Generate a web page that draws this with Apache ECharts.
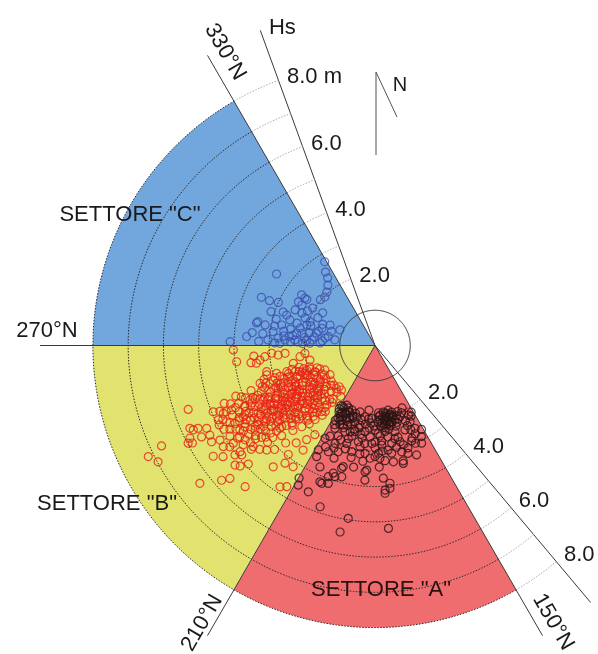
<!DOCTYPE html>
<html>
<head>
<meta charset="utf-8">
<script src="https://cdn.jsdelivr.net/npm/echarts@6/dist/echarts.min.js"></script>
<style>
  html, body { margin: 0; padding: 0; background: #fff; }
  #chart { width: 598px; height: 654px; }
</style>
</head>
<body>
<div id="chart"></div>
<script>
// directions are in degrees from north, clockwise; heights Hs in metres
const sectorNames = ['SETTORE "A"', 'SETTORE "B"', 'SETTORE "C"'];
const sectorFrom = [150, 210, 270];
const sectorTo = [210, 270, 330];
const sectorEdges = [150, 210, 270, 330];
const edgeLabels = ['150°N', '210°N', '270°N', '330°N'];
const ringLevels = [2, 3, 4, 5, 6, 7, 8];
const hsTicks = [2, 4, 6, 8];
const hsAxisDirs = [340, 140];
const sectorMaxHs = 8;
const hsMax = 9.5;
const calmHs = 1;

// settore "C" (blue)
const pointsC = [
  [3.45, 306], [3.5, 293], [3.25, 293], [3.0, 294], [2.33, 304], [2.37, 299], [2.51, 326], [2.34, 325],
  [2.17, 322], [2.04, 318], [1.98, 314], [2.02, 310], [2.77, 329], [2.77, 290], [2.48, 294], [2.27, 294],
  [3.39, 281.5], [3.17, 280.6], [2.92, 277.7], [2.71, 282.4], [2.52, 286.7], [3.65, 274], [2.02, 286.7],
  [4.11, 271.5], [3.42, 280.8], [2.56, 273.5], [2.28, 274], [2.01, 276.5], [1.74, 278], [1.43, 278.5],
  [1.15, 278], [2.18, 283], [1.96, 290], [1.8, 296], [2.44, 281], [2.76, 274.4], [3.04, 273], [1.79, 275],
  [1.58, 288], [1.4, 294.5], [1.09, 294], [2.19, 272.6], [1.56, 272.6], [2.13, 291.5], [2.06, 301],
  [2.53, 304.6], [2.4, 304], [2.5, 299.7], [2.35, 277], [2.62, 279], [1.9, 281], [2.1, 279.5], [1.65, 284],
  [2.45, 276], [2.85, 271.5], [3.3, 272], [1.3, 288], [1.85, 272],
  [1.5, 275], [1.7, 282], [1.95, 274], [2.25, 279], [2.6, 276], [2.9, 281], [3.2, 276], [1.35, 281],
  [2.05, 271.5], [2.4, 272.5], [2.7, 271.3], [3.5, 276], [1.6, 292], [1.9, 287], [2.3, 286], [2.65, 289],
  [2.15, 297], [1.75, 302], [2.9, 285], [3.1, 288]
];

// settore "B" (red)
const pointsB = [
  [3.95, 263.3], [3.55, 262.1], [3.29, 262.8], [3.16, 256.4], [5.6, 251.1], [4.96, 247.7], [4.71, 245.9],
  [4.46, 245.8], [5.75, 245.9], [5.54, 244.9], [5.32, 243.8], [5.87, 243.4], [5.98, 242.4], [5.87, 241.9],
  [5.56, 242.2], [5.33, 241.5], [5.38, 239.5], [5.15, 238.6], [5.17, 236.3], [5.02, 235.1], [6.69, 244.8],
  [7.16, 243.9], [6.98, 241.8], [5.56, 235.6], [5.34, 233.8], [5.04, 232], [4.89, 230.6], [5.22, 229.5],
  [5.13, 228.2], [4.92, 226.9], [4.92, 244.6], [4.73, 242.8], [4.54, 240.9], [4.25, 241.6], [3.87, 246.4],
  [4.08, 244.8], [6.32, 231.8], [5.79, 228.7], [5.58, 227.5], [5.44, 222.6], [4.49, 220], [4.83, 213.9],
  [4.72, 212], [5.68, 245.1], [4.88, 235.4], [4.87, 231.8], [4.49, 230.3], [4.27, 226], [4.2, 217.4],
  [4.15, 214], [3.4, 261.5], [3.14, 264.2], [2.76, 264.4], [2.56, 265], [2.37, 257.7], [2.15, 261.5],
  [2.0, 263.6], [1.89, 257.4], [3.43, 251.8], [3.18, 254.8], [2.9, 254.2], [2.61, 253.5], [2.39, 248.3],
  [2.14, 248.3], [1.86, 246.4], [3.45, 265], [2.94, 265.7], [4.02, 268.2], [3.9, 228], [4.1, 224],
  [3.75, 222.5], [3.55, 219], [3.3, 216], [3.05, 214], [3.6, 214.5], [3.95, 218.5],
  [1.62, 226], [1.71, 219], [1.78, 233], [1.66, 240], [1.85, 246], [1.74, 214], [1.9, 229], [1.83, 238],
  [2.02, 217], [2.11, 222], [2.05, 228], [2.18, 233], [2.08, 237], [2.22, 242], [2.14, 247], [2.27, 251],
  [2.3, 225], [2.25, 231], [2.2, 238], [2.04, 244],
  [2.41, 219], [2.48, 224], [2.55, 229], [2.44, 234], [2.62, 238], [2.51, 243], [2.68, 247], [2.58, 252],
  [2.66, 221], [2.7, 232], [2.47, 240], [2.6, 226], [2.39, 248], [2.65, 242],
  [2.82, 223], [2.91, 228], [2.85, 233], [3.02, 236], [2.95, 240], [3.08, 244], [2.88, 248], [3.05, 251],
  [2.99, 226], [3.1, 231], [2.8, 238], [2.94, 243], [3.06, 239], [2.86, 246],
  [3.22, 227], [3.31, 232], [3.25, 237], [3.42, 240], [3.36, 244], [3.48, 248], [3.28, 251], [3.45, 234],
  [3.5, 229], [3.2, 242], [3.38, 238],
  [3.62, 231], [3.71, 236], [3.65, 240], [3.82, 243], [3.76, 247], [3.88, 238], [3.7, 229], [3.9, 234],
  [3.6, 245], [4.02, 234], [4.12, 239], [4.25, 236], [4.18, 242], [4.35, 238], [4.08, 245], [4.3, 232],
  [1.55, 221], [1.6, 231], [1.68, 236], [1.58, 244], [1.76, 249], [1.8, 224], [1.93, 218], [1.95, 234],
  [1.88, 241], [1.69, 228], [1.52, 237], [1.96, 250],
  [2.0, 220], [2.03, 233], [2.09, 240], [2.12, 225], [2.16, 229], [2.19, 245], [2.23, 236], [2.26, 219],
  [2.29, 248], [2.32, 228], [2.35, 241], [2.38, 233], [2.13, 252], [2.06, 250], [2.36, 222], [2.24, 254],
  [2.42, 230], [2.45, 237], [2.49, 245], [2.52, 221], [2.53, 235], [2.57, 250], [2.6, 233], [2.63, 244],
  [2.67, 228], [2.71, 240], [2.74, 250], [2.76, 224], [2.78, 235], [2.56, 240], [2.43, 227], [2.69, 236],
  [2.81, 231], [2.84, 241], [2.87, 226], [2.9, 236], [2.93, 246], [2.96, 230], [2.98, 252], [3.01, 241],
  [3.04, 233], [3.07, 227], [3.12, 247], [3.15, 237], [3.18, 242], [3.16, 229], [2.83, 252], [3.0, 246],
  [3.21, 234], [3.24, 246], [3.27, 231], [3.3, 240], [3.33, 236], [3.35, 249], [3.39, 228], [3.41, 243],
  [3.44, 232], [3.47, 238], [3.52, 244], [3.55, 235], [3.58, 240], [3.29, 253],
  [3.63, 236], [3.67, 243], [3.73, 232], [3.79, 239], [3.85, 245], [3.93, 241], [3.97, 237], [4.05, 242],
  [4.15, 235], [3.74, 250], [3.68, 226],
  [1.58, 217], [1.64, 222], [1.72, 242], [1.8, 230], [1.87, 236], [1.92, 244], [1.99, 226], [2.01, 238],
  [2.07, 231], [2.1, 246], [2.17, 219], [2.2, 228], [2.21, 250], [2.28, 234], [2.31, 243], [2.34, 217],
  [2.37, 252], [2.4, 225], [2.46, 231], [2.5, 239], [2.54, 247], [2.59, 223], [2.61, 231], [2.64, 250],
  [2.66, 237], [2.72, 227], [2.73, 244], [2.77, 232], [2.8, 248], [2.85, 222], [2.89, 239], [2.92, 233],
  [2.97, 249], [2.99, 236], [3.03, 228], [3.06, 247], [3.09, 235], [3.13, 241], [3.17, 250], [3.19, 232],
  [3.23, 239], [3.26, 226], [3.32, 244], [3.37, 234], [3.4, 250], [3.43, 237], [3.46, 245], [3.51, 232],
  [3.54, 241], [3.57, 229], [3.61, 247], [3.66, 234], [3.69, 241], [3.72, 246], [3.78, 235], [3.83, 240],
  [3.86, 230], [3.92, 244], [3.99, 239], [4.04, 230], [4.1, 236], [4.22, 240], [4.28, 244], [4.38, 235],
  [2.48, 217], [2.7, 219], [2.9, 220], [3.1, 222], [3.35, 224], [1.7, 247], [1.95, 252], [2.45, 254],
  [2.15, 236], [2.55, 243], [2.75, 240], [3.0, 238], [3.2, 236], [3.4, 241], [3.6, 238], [3.8, 236],
  [4.4, 241], [4.45, 237], [4.5, 244], [4.55, 234], [4.6, 239], [4.62, 246], [4.66, 242], [4.7, 236],
  [4.75, 240], [4.8, 244], [4.42, 248], [4.48, 232], [4.58, 230], [4.33, 246], [4.36, 242], [4.2, 247],
  [4.24, 233], [4.14, 231], [4.06, 249], [3.96, 248], [4.52, 238], [4.85, 238], [4.68, 233], [4.9, 241],
  [4.3, 239], [4.12, 243], [4.0, 236], [3.94, 232], [4.78, 247], [4.58, 249], [4.96, 243], [4.4, 228],
  [4.63, 236], [4.2, 250], [4.1, 228]
];

// settore "A" (black)
const pointsA = [
  [2.06, 209.5], [2.07, 204.3], [2.18, 199], [2.31, 203.9], [2.18, 207], [2.09, 194.4], [2.04, 188],
  [2.07, 182.6], [1.98, 175.9], [2.08, 171.4], [2.22, 167.5], [2.27, 173.5], [1.99, 167.6], [2.19, 165],
  [2.17, 177.8], [2.14, 160.7], [2.19, 154.4], [2.38, 155.3], [2.61, 205.8], [2.59, 199.2], [2.51, 193.1],
  [2.46, 186.6], [2.4, 180], [2.46, 173.4], [2.51, 166.9], [2.54, 160.5], [2.61, 154.2], [3.07, 154.5],
  [2.99, 208.3], [3.0, 202.2], [2.89, 196.1], [2.77, 189.8], [2.78, 181.9], [2.83, 176.1], [2.81, 170.3],
  [2.93, 164.1], [3.37, 208.5], [3.29, 203.7], [3.19, 199.1], [3.08, 192.4], [3.07, 185.3], [3.06, 178.2],
  [3.09, 171.2], [3.11, 165.9], [3.32, 159.2], [2.15, 151.5], [2.72, 151], [2.82, 165.4], [3.44, 166.5],
  [4.07, 174], [4.2, 176.1], [3.93, 173.8], [3.54, 183.8], [3.83, 184.3], [3.55, 194.7], [3.81, 198.1],
  [4.13, 198.7], [4.19, 201.1], [4.56, 204.5], [4.83, 198.8], [4.96, 188.8], [5.38, 190.6], [5.2, 175.8],
  [3.56, 207.7], [3.78, 204.4], [4.33, 209.8], [4.52, 208.8], [4.17, 202], [3.95, 199.6], [3.89, 197],
  [3.84, 194.2], [3.61, 195.2], [3.59, 184.5], [3.77, 176.4], [4.11, 176], [3.2, 182.5], [3.2, 177.5],
  [3.34, 171], [3.37, 166.3],
  [1.87, 205.2], [1.94, 199.6], [2.43, 201.9], [2.3, 199.4], [2.31, 207], [2.24, 194.7], [2.3, 190.7],
  [1.87, 168.6], [1.9, 173], [2.06, 165.7], [2.36, 172.4], [2.36, 165.4], [2.28, 180.7], [1.84, 185.3],
  [1.93, 192.7], [1.93, 156.6], [2.83, 158.2], [2.87, 206.4], [2.77, 202.2], [2.65, 194.3], [2.65, 188],
  [2.6, 183], [2.57, 176.8], [2.68, 165.9], [3.05, 162.2], [2.91, 188.4], [2.99, 172.9], [2.74, 180],
  [3.13, 201.8], [2.12, 206], [2.0, 202], [2.2, 201.5], [1.95, 208], [2.15, 169.5], [2.05, 174],
  [2.25, 170], [2.12, 176], [1.97, 170.5],
  [1.92, 203], [1.98, 206.5], [2.03, 200.5], [2.1, 203], [2.14, 208.5], [2.16, 197], [2.2, 204.5],
  [2.25, 206], [2.27, 201], [2.33, 197], [2.35, 205], [2.4, 208], [2.4, 199], [2.45, 204], [2.5, 201],
  [2.52, 207], [2.55, 196], [2.1, 197.5], [2.0, 196], [1.96, 209.6],
  [1.95, 166], [2.0, 168.5], [2.03, 172], [2.07, 169], [2.1, 166.5], [2.13, 173], [2.17, 171], [2.2, 175],
  [2.23, 168], [2.26, 172], [2.29, 176], [2.31, 169], [2.34, 174], [2.02, 177], [2.08, 163], [2.18, 162.5],
  [2.27, 164], [1.93, 171.5], [1.91, 177], [2.4, 170.5],
  [2.1, 185], [2.15, 190], [2.2, 183], [2.25, 187], [2.35, 184], [2.38, 191], [2.45, 194], [2.55, 189],
  [2.5, 178], [2.62, 172], [2.7, 168], [2.72, 176], [2.75, 196], [2.8, 186], [2.85, 200], [2.9, 180],
  [2.95, 168], [3.0, 176], [3.05, 196], [3.1, 188], [3.15, 180], [3.2, 206], [3.25, 192], [3.28, 175],
  [3.3, 186], [2.45, 158], [2.6, 157], [2.75, 155.5], [2.9, 159], [3.0, 157.5], [2.3, 158], [2.05, 158.5],
  [1.98, 161], [2.25, 153], [2.9, 153], [3.2, 163], [3.4, 200], [3.5, 190], [3.45, 178]
];

const FONT = '"Liberation Sans", Arial, sans-serif';
const sectorColors = ['#ef6c6f', '#e2e36e', '#71a7dd'];
const CENTER = [375, 345.5];
const RADIUS = 335; // px for hsMax

function arc(api, r, a0, a1) {
  const pts = [];
  for (let a = a0; a <= a1; a += 1) pts.push(api.coord([r, a]));
  return pts;
}

function hsLabel(withUnit) {
  return function (v) {
    if (v === hsMax) return withUnit ? 'Hs' : '';
    if (hsTicks.indexOf(v) < 0) return '';
    return v.toFixed(1) + (withUnit && v === 8 ? ' m' : '');
  };
}

function hsRadiusAxis(polarIndex, margin, withUnit) {
  return {
    polarIndex: polarIndex,
    type: 'value',
    min: 0,
    max: hsMax,
    interval: 2,
    axisLine: { lineStyle: { color: '#3a3a3a', width: 1 } },
    axisTick: { show: false },
    splitLine: { show: false },
    axisLabel: {
      margin: margin,
      showMinLabel: false,
      showMaxLabel: true,
      align: 'left',
      verticalAlign: 'middle',
      fontSize: 22,
      fontFamily: FONT,
      color: '#1a1a1a',
      formatter: hsLabel(withUnit)
    }
  };
}

function scatter(data, stroke) {
  return {
    type: 'scatter',
    coordinateSystem: 'polar',
    polarIndex: 0,
    z: 4,
    silent: true,
    symbol: 'circle',
    symbolSize: 8,
    itemStyle: { color: 'rgba(0,0,0,0)', borderColor: stroke, borderWidth: 1.2 },
    data: data
  };
}

function label(x, y, text, rot, fill) {
  return {
    type: 'text', x: x, y: y, z: 100, rotation: rot || 0,
    style: { text: text, font: '22px ' + FONT, fill: fill || '#1a1a1a', align: 'center', verticalAlign: 'middle' }
  };
}

const chart = echarts.init(document.getElementById('chart'));

chart.setOption({
  animation: false,
  backgroundColor: '#fff',
  polar: [
    { center: CENTER, radius: RADIUS },
    { center: CENTER, radius: RADIUS },
    { center: CENTER, radius: RADIUS }
  ],
  angleAxis: [
    { polarIndex: 0, type: 'value', min: 0, max: 360, startAngle: 90, clockwise: true, show: false },
    { polarIndex: 1, type: 'value', min: 0, max: 360, startAngle: 90 - hsAxisDirs[0] + 360, show: false },
    { polarIndex: 2, type: 'value', min: 0, max: 360, startAngle: 90 - hsAxisDirs[1] + 360, show: false }
  ],
  radiusAxis: [
    { polarIndex: 0, type: 'value', min: 0, max: hsMax, show: false },
    hsRadiusAxis(1, -9, true),
    hsRadiusAxis(2, 10, false)
  ],
  series: [
    {
      type: 'custom',
      coordinateSystem: 'polar',
      polarIndex: 0,
      silent: true,
      z: 1,
      data: sectorFrom.map((a, i) => [sectorMaxHs, a, sectorTo[i]]),
      renderItem: function (params, api) {
        const i = params.dataIndex;
        const pts = [api.coord([0, sectorFrom[i]])].concat(arc(api, sectorMaxHs, sectorFrom[i], sectorTo[i]));
        return { type: 'polygon', shape: { points: pts }, style: { fill: sectorColors[i] } };
      }
    },
    {
      type: 'custom',
      coordinateSystem: 'polar',
      polarIndex: 0,
      silent: true,
      z: 2,
      data: ringLevels.map(r => [r, sectorEdges[0]]),
      renderItem: function (params, api) {
        const r = ringLevels[params.dataIndex];
        const dash = { fill: null, lineWidth: 1, lineDash: [1.5, 1.5] };
        return {
          type: 'group',
          children: [
            { type: 'polyline', shape: { points: arc(api, r, sectorEdges[0], sectorEdges[3]) },
              style: Object.assign({ stroke: '#2c2c2c' }, dash) },
            { type: 'polyline', shape: { points: arc(api, r, hsAxisDirs[1], sectorEdges[0]) },
              style: Object.assign({ stroke: '#aaa' }, dash) },
            { type: 'polyline', shape: { points: arc(api, r, sectorEdges[3], hsAxisDirs[0]) },
              style: Object.assign({ stroke: '#aaa' }, dash) }
          ]
        };
      }
    },
    {
      type: 'custom',
      coordinateSystem: 'polar',
      polarIndex: 0,
      silent: true,
      z: 3,
      data: [[calmHs, 0]],
      renderItem: function (params, api) {
        return { type: 'polyline', shape: { points: arc(api, calmHs, 0, 360) },
          style: { stroke: '#333', lineWidth: 1, fill: null } };
      }
    },
    scatter(pointsB, '#e8221c'),
    scatter(pointsC, '#3d50b0'),
    scatter(pointsA, '#2a1414'),
    {
      type: 'custom',
      coordinateSystem: 'polar',
      polarIndex: 0,
      silent: true,
      z: 5,
      data: sectorEdges.map(a => [hsMax, a]),
      renderItem: function (params, api) {
        const a = sectorEdges[params.dataIndex];
        const p0 = api.coord([0, a]);
        const p1 = api.coord([hsMax, a]);
        return { type: 'line', shape: { x1: p0[0], y1: p0[1], x2: p1[0], y2: p1[1] },
          style: { stroke: '#3a3a3a', lineWidth: 1 } };
      }
    }
  ],
  graphic: [
    label(130, 215, sectorNames[2]),
    label(107, 504, sectorNames[1]),
    label(381, 590, sectorNames[0], 0, '#2a1010'),
    label(47, 331, edgeLabels[2]),
    label(225, 52, edgeLabels[3], -Math.PI / 3),
    label(202, 623, edgeLabels[1], Math.PI / 3),
    label(553, 622, edgeLabels[0], -Math.PI / 3),
    // north arrow
    { type: 'line', z: 100, shape: { x1: 376, y1: 72, x2: 376, y2: 155 }, style: { stroke: '#8a8a8a', lineWidth: 1.5 } },
    { type: 'line', z: 100, shape: { x1: 376, y1: 72, x2: 397, y2: 117 }, style: { stroke: '#555', lineWidth: 1 } },
    { type: 'text', z: 100, x: 400, y: 85, style: { text: 'N', font: '20px ' + FONT, fill: '#1a1a1a', align: 'center', verticalAlign: 'middle' } }
  ]
});
</script>
</body>
</html>
